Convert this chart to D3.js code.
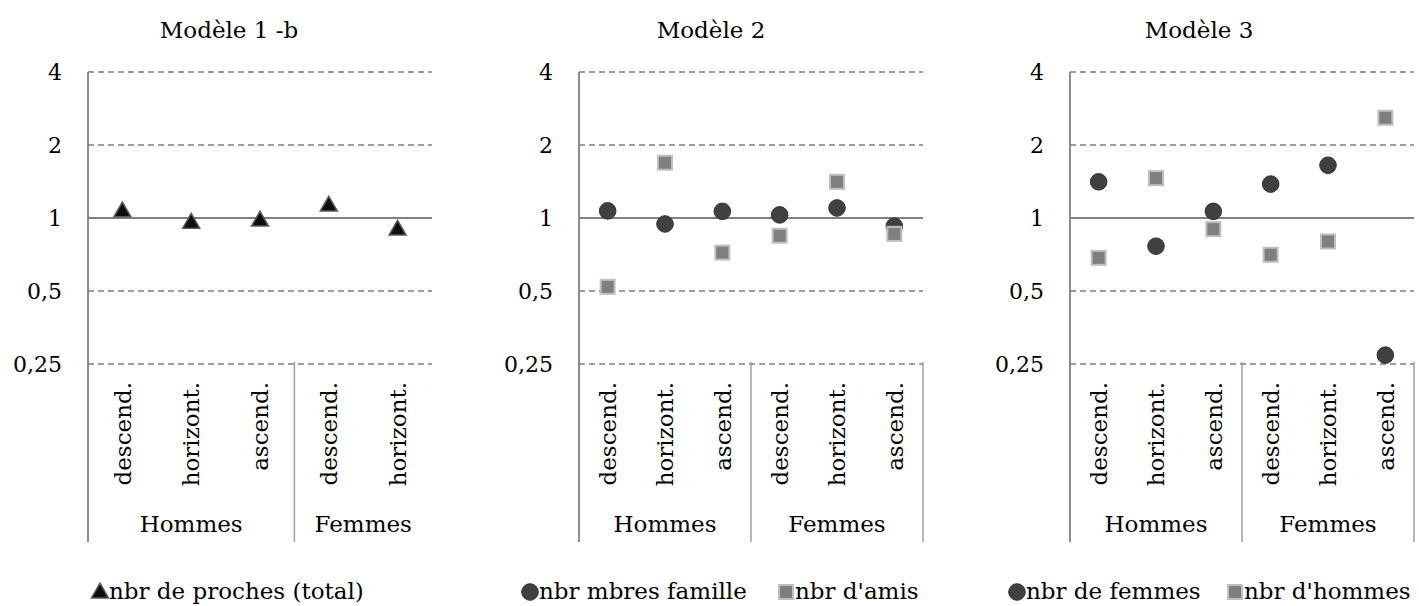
<!DOCTYPE html>
<meta charset="utf-8">
<style>
    body { margin: 0; background: #fff; }
    text { font-family: "DejaVu Serif", serif; font-size: 23px; fill: #000; }
    .grid line { stroke: #7f7f7f; stroke-width: 1.5; stroke-dasharray: 6, 4; }
    .axis-line { stroke: #808080; stroke-width: 1.8; }
    .cat-line { stroke: #a0a0a0; stroke-width: 1.5; }
</style>
<body>
<script src="https://cdn.jsdelivr.net/npm/d3@7"></script>
<script>

    // categories
    var cats1 = [["Hommes", "descend."], ["Hommes", "horizont."], ["Hommes", "ascend."],
                 ["Femmes", "descend."], ["Femmes", "horizont."]];
    var cats23 = [["Hommes", "descend."], ["Hommes", "horizont."], ["Hommes", "ascend."],
                  ["Femmes", "descend."], ["Femmes", "horizont."], ["Femmes", "ascend."]];
    var groupNames = ["Hommes", "Femmes"];
    var yTicks = [0.25, 0.5, 1, 2, 4];
    var yTickLabels = ["0,25", "0,5", "1", "2", "4"];

    // series values (odds ratios, log2 scale)
    var m1Proches = [1.07, 0.96, 0.98, 1.13, 0.90];
    var m2Famille = [1.07, 0.945, 1.065, 1.03, 1.10, 0.925];
    var m2Amis    = [0.52, 1.69, 0.72, 0.845, 1.41, 0.86];
    var m3Femmes  = [1.41, 0.765, 1.065, 1.38, 1.65, 0.272];
    var m3Hommes  = [0.685, 1.46, 0.90, 0.705, 0.80, 2.59];

    var panels = [
        {title: "Modèle 1 -b", titleX: 229, left: 88, cats: cats1, rightLine: false,
         series: [{name: "nbr de proches (total)", values: m1Proches, shape: "triangle"}],
         legendX: [92]},
        {title: "Modèle 2", titleX: 711, left: 579, cats: cats23, rightLine: true,
         series: [{name: "nbr mbres famille", values: m2Famille, shape: "circle"},
                  {name: "nbr d'amis", values: m2Amis, shape: "square"}],
         legendX: [522, 778]},
        {title: "Modèle 3", titleX: 1199, left: 1070, cats: cats23, rightLine: true,
         series: [{name: "nbr de femmes", values: m3Femmes, shape: "circle"},
                  {name: "nbr d'hommes", values: m3Hommes, shape: "square"}],
         legendX: [1009, 1227]}
    ];

    var W = 1419, H = 606,
        plotW = 344, plotTop = 72, plotBottom = 364, axisBottom = 542;

    var y = d3.scaleLog().base(2).domain([0.25, 4]).range([plotBottom, plotTop]);

    var svg = d3.select("body").append("svg")
            .attr("width", W)
            .attr("height", H);

    function drawMarker(g, shape, cx, cy) {
        if (shape === "triangle") {
            g.append("path")
                .attr("d", d3.symbol().type(d3.symbolTriangle).size(125)())
                .attr("transform", "translate(" + cx + "," + (cy + 1) + ")")
                .attr("fill", "#0d0d0d")
                .attr("stroke", "#595959")
                .attr("stroke-width", 1.5);
        } else if (shape === "circle") {
            g.append("circle")
                .attr("cx", cx).attr("cy", cy).attr("r", 8.3)
                .attr("fill", "#404040")
                .attr("stroke", "#333")
                .attr("stroke-width", 1);
        } else {
            g.append("rect")
                .attr("x", cx - 7).attr("y", cy - 7)
                .attr("width", 14).attr("height", 14)
                .attr("fill", "#7f7f7f")
                .attr("stroke", "#bfbfbf")
                .attr("stroke-width", 2);
        }
    }

    panels.forEach(function(p) {
        var g = svg.append("g").attr("transform", "translate(" + p.left + ",0)");
        var x = d3.scaleBand().domain(d3.range(p.cats.length)).range([0, plotW]);

        svg.append("text")
            .attr("x", p.titleX)
            .attr("y", 38)
            .attr("text-anchor", "middle")
            .text(p.title);

        // gridlines (dashed) and the solid line at 1
        g.append("g").attr("class", "grid")
          .selectAll("line")
            .data(yTicks.filter(function(d) { return d !== 1; }))
          .enter().append("line")
            .attr("x1", 0).attr("x2", plotW)
            .attr("y1", function(d) { return y(d); })
            .attr("y2", function(d) { return y(d); });

        g.append("line").attr("class", "axis-line")
            .attr("x1", 0).attr("x2", plotW)
            .attr("y1", y(1)).attr("y2", y(1));

        // y axis
        var yAxis = d3.axisLeft(y).tickValues(yTicks).tickSize(0).tickPadding(26)
            .tickFormat(function(d, i) { return yTickLabels[i]; });
        var ya = g.append("g").call(yAxis);
        ya.select(".domain").remove();
        ya.selectAll("text")
            .style("font-family", "DejaVu Serif, serif")
            .style("font-size", "22px")
            .attr("fill", "#000");

        g.append("line").attr("class", "axis-line")
            .attr("x1", 0).attr("x2", 0)
            .attr("y1", plotTop).attr("y2", axisBottom);

        // group labels and separators
        groupNames.forEach(function(gn, gi) {
            var idx = p.cats.map(function(c, i) { return c[0] === gn ? i : -1; })
                            .filter(function(i) { return i >= 0; });
            var x0 = x(idx[0]), x1 = x(idx[idx.length - 1]) + x.bandwidth();
            g.append("text")
                .attr("x", (x0 + x1) / 2)
                .attr("y", 532)
                .attr("text-anchor", "middle")
                .text(gn);
            if (gi > 0) {
                g.append("line").attr("class", "cat-line")
                    .attr("x1", x0).attr("x2", x0)
                    .attr("y1", plotBottom - 2).attr("y2", axisBottom);
            }
        });
        if (p.rightLine) {
            g.append("line").attr("class", "cat-line")
                .attr("x1", plotW).attr("x2", plotW)
                .attr("y1", plotBottom - 2).attr("y2", axisBottom);
        }

        // category labels (rotated)
        g.selectAll("text.cat")
            .data(p.cats)
          .enter().append("text")
            .attr("class", "cat")
            .attr("text-anchor", "end")
            .attr("transform", function(d, i) {
                return "translate(" + (x(i) + x.bandwidth() / 2) + ",382) rotate(-90)";
            })
            .attr("dy", "0.36em")
            .text(function(d) { return d[1]; });

        // markers
        p.series.forEach(function(s) {
            s.values.forEach(function(v, i) {
                drawMarker(g, s.shape, x(i) + x.bandwidth() / 2, y(v));
            });
        });

        // legend
        p.series.forEach(function(s, si) {
            var lx = p.legendX[si];
            drawMarker(svg, s.shape, lx + 8, 592);
            svg.append("text")
                .attr("x", lx + 17)
                .attr("y", 599)
                .text(s.name);
        });
    });

</script>
